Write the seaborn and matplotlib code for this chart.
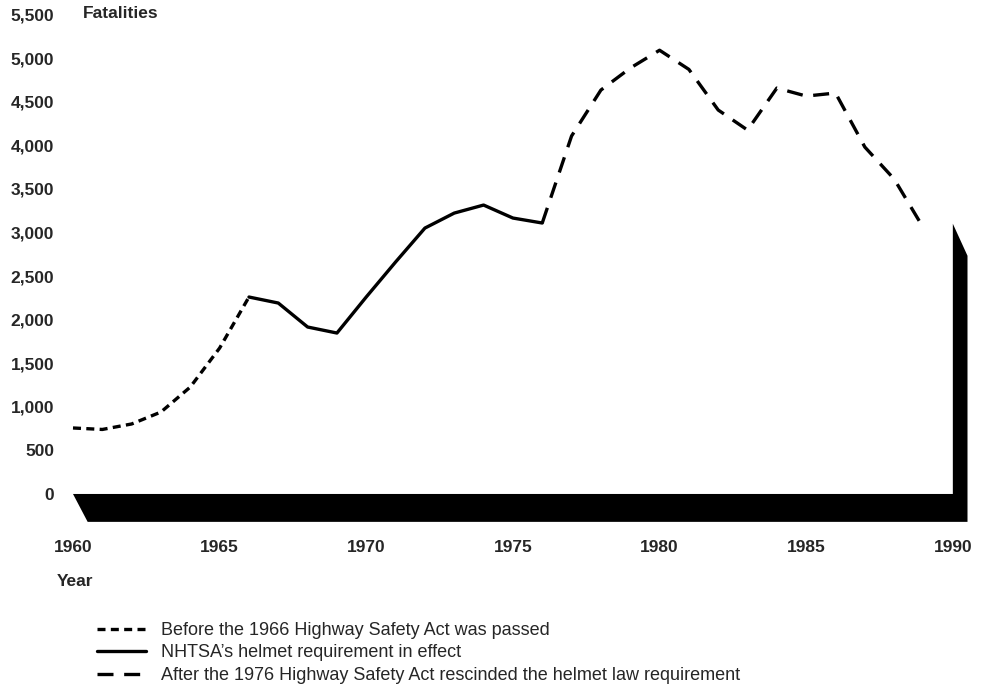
import matplotlib
matplotlib.use('Agg')
import matplotlib.pyplot as plt
import seaborn as sns
import pandas as pd

# values
years_before = [1960, 1961, 1962, 1963, 1964, 1965, 1966]
fatal_before = [757, 740, 803, 940, 1227, 1674, 2259]
years_helmet = [1966, 1967, 1968, 1969, 1970, 1971, 1972, 1973, 1974, 1975, 1976]
fatal_helmet = [2259, 2190, 1915, 1846, 2260, 2661, 3050, 3222, 3314, 3165, 3108]
years_after = [1976, 1977, 1978, 1979, 1980, 1981, 1982, 1983, 1984, 1985, 1986, 1987, 1988, 1989]
fatal_after = [3108, 4106, 4633, 4885, 5090, 4870, 4404, 4174, 4656, 4564, 4599, 3979, 3612, 3050]

labels = ['Before the 1966 Highway Safety Act was passed',
          'NHTSA\u2019s helmet requirement in effect',
          'After the 1976 Highway Safety Act rescinded the helmet law requirement']

y_ticks = [0, 500, 1000, 1500, 2000, 2500, 3000, 3500, 4000, 4500, 5000, 5500]
y_ticklabels = ['0', '500', '1,000', '1,500', '2,000', '2,500', '3,000', '3,500',
                '4,000', '4,500', '5,000', '5,500']
x_ticks = [1960, 1965, 1970, 1975, 1980, 1985, 1990]

wall_top = 3100  # height of the black wall at the right

sns.set_style('white')
plt.rcParams['font.family'] = ['Liberation Sans', 'DejaVu Sans']

fig = plt.figure(figsize=(9.87, 6.94), dpi=100)
ax = fig.add_axes([0.0591, 0.2317, 0.936, 0.760])

before = pd.DataFrame({'Year': years_before, 'Fatalities': fatal_before})
helmet = pd.DataFrame({'Year': years_helmet, 'Fatalities': fatal_helmet})
after = pd.DataFrame({'Year': years_after, 'Fatalities': fatal_after})

lw = 2.4
sns.lineplot(data=before, x='Year', y='Fatalities', ax=ax, color='black', lw=lw,
             linestyle=(0, (2.4, 1.6)), label=labels[0])
sns.lineplot(data=helmet, x='Year', y='Fatalities', ax=ax, color='black', lw=lw,
             linestyle='-', label=labels[1])
sns.lineplot(data=after, x='Year', y='Fatalities', ax=ax, color='black', lw=lw,
             linestyle=(0, (4.8, 3.2)), label=labels[2])

# black floor + wall (3D base)
dx, dy = 0.5, 320
x0, x1 = x_ticks[0], x_ticks[-1]
ax.fill([x0, x1, x1, x1 + dx, x1 + dx, x0 + dx],
        [0, 0, wall_top, wall_top - dy * 1.15, -dy, -dy],
        color='black', lw=0, zorder=5)

ax.set_xlim(1959.5, 1991)
ax.set_ylim(-450, 5600)
ax.set_yticks(y_ticks)
ax.set_yticklabels(y_ticklabels, fontsize=12.5, fontweight='bold')
ax.set_xticks(x_ticks)
ax.set_xticklabels([str(y) for y in x_ticks], fontsize=12.5, fontweight='bold')
ax.tick_params(axis='both', length=0)
ax.tick_params(axis='y', pad=3)
ax.tick_params(axis='x', pad=5)
ax.spines[['right', 'top', 'left', 'bottom']].set_visible(False)
ax.set_xlabel(None)
ax.set_ylabel(None)

fig.text(83 / 987, 1 - 14 / 694, 'Fatalities', fontsize=12.5, fontweight='bold',
         ha='left', va='center')
fig.text(57 / 987, 1 - 582 / 694, 'Year', fontsize=12.5, fontweight='bold',
         ha='left', va='center')

handles, lbls = ax.get_legend_handles_labels()
ax.get_legend().remove()
fig.legend(handles, lbls, loc='upper left', bbox_to_anchor=(97 / 987, 1 - 622 / 694),
           frameon=False, fontsize=13, handlelength=2.7, handletextpad=0.85,
           labelspacing=0.3, borderpad=0, borderaxespad=0)

fig.savefig('out.png', dpi=100)
